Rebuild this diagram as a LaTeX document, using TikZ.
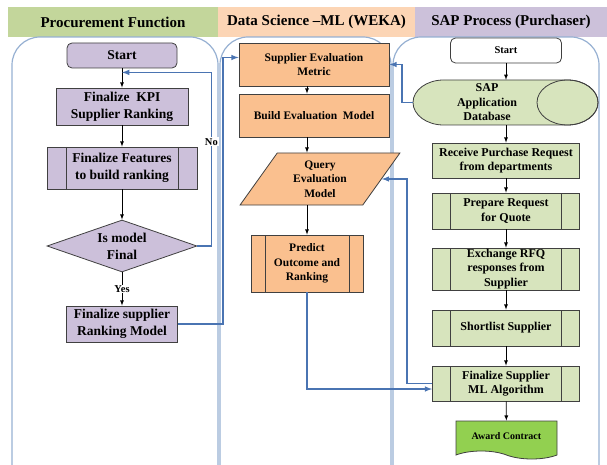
\documentclass[tikz,border=0pt]{standalone}
\usepackage{fontspec}
\setmainfont{Liberation Serif}
\usetikzlibrary{shapes.geometric,shapes.symbols,arrows,positioning,calc}
\definecolor{procfill}{RGB}{204,192,218}
\definecolor{dsfill}{RGB}{250,192,143}
\definecolor{sapfill}{RGB}{215,228,189}
\definecolor{awardfill}{RGB}{146,208,80}
\definecolor{headgreen}{RGB}{195,214,155}
\definecolor{headorange}{RGB}{252,213,181}
\definecolor{headpurple}{RGB}{204,193,218}
\definecolor{laneblue}{RGB}{150,176,210}
\definecolor{linkblue}{RGB}{74,116,178}
\tikzset{lanehead/.style={minimum height=30pt, inner sep=0pt, font=\fontsize{15}{18}\selectfont\bfseries},
  lane/.style={draw=laneblue, line width=1.2pt, rounded corners=28pt},
  box/.style={draw=black!75, line width=0.8pt, inner sep=1pt, align=center},
  procbox/.style={box, fill=procfill, font=\fontsize{13.5}{17}\selectfont\bfseries},
  dsbox/.style={box, fill=dsfill, font=\fontsize{11.5}{14.5}\selectfont\bfseries},
  sapbox/.style={box, fill=sapfill, font=\fontsize{12}{14.5}\selectfont\bfseries, minimum width=147pt},
  sides/.style={path picture={\draw[black!75, line width=0.8pt]
      ([xshift=#1]path picture bounding box.north west) -- ([xshift=#1]path picture bounding box.south west)
      ([xshift=-#1]path picture bounding box.north east) -- ([xshift=-#1]path picture bounding box.south east);}},
  tag/.style={fill=white, inner sep=1pt, font=\fontsize{10.5}{12}\selectfont\bfseries},
  arr/.style={->, >=latex, line width=0.8pt},
  link/.style={->, >=latex, draw=linkblue, line width=1.5pt}}

\begin{document}
\begin{tikzpicture}[x=1pt,y=-1pt]
    \useasboundingbox (0,0) rectangle (607,465);
    % lane headers
    \node[lanehead, fill=headgreen, minimum width=210pt] (H1) at (113,22) {Procurement Function};
    \node[lanehead, fill=headorange, minimum width=197pt] (H2) at (316.5,22) {Data Science --ML (WEKA)};
    \node[lanehead, fill=headpurple, minimum width=192pt] (H3) at (511,22) {SAP Process (Purchaser)};
    % lanes
    \draw[lane] (12,465) |- (115,37) -| (218,465);
    \draw[lane] (220,465) |- (305,37) -| (391,465);
    \draw[lane] (393,465) |- (495,37) -| (599,465);

    % procurement function
    \node[procbox, rounded corners=5pt, minimum width=110pt, minimum height=25pt] (P0) at (122,55.5) {Start};
    \node[procbox, minimum width=132pt, minimum height=37pt] (P1) at (122,106.5) {Finalize~ KPI\\Supplier Ranking};
    \node[procbox, sides=19pt, minimum width=150pt, minimum height=42pt] (P2) at (122,168) {Finalize Features\\to build ranking};
    \node[procbox, diamond, aspect=2.9, inner sep=0pt, minimum width=150pt, minimum height=52pt] (P3) at (122,246) {Is model\\Final};
    \node[procbox, minimum width=111pt, minimum height=36pt] (P4) at (122,324) {Finalize supplier\\Ranking Model};
    \draw[arr] (P0) -- (P1);
    \draw[arr] (P1) -- (P2);
    \draw[arr] (P2) -- (P3);
    \draw[arr] (P3) -- node[tag] {Yes} (P4);
    \draw[link] (P3.east) -- ++(14,0) |- node[tag, pos=0.3] {No} ([yshift=-4pt]P0.south);

    % data science
    \node[dsbox, minimum width=150pt, minimum height=43pt] (D1) at (314,64.5) {Supplier Evaluation\\Metric};
    \node[dsbox, minimum width=150pt, minimum height=43pt] (D2) at (314,115.5) {Build Evaluation~ Model};
    \node[dsbox, trapezium, trapezium left angle=58, trapezium right angle=122, trapezium stretches=true,
          minimum width=160pt, minimum height=52pt] (D3) at (320,179) {Query\\Evaluation\\Model};
    \node[dsbox, sides=14pt, minimum width=112pt, minimum height=57pt] (D4) at (307,263.5) {Predict\\Outcome and\\Ranking};
    \draw[arr] (D1.south -| D4.north) -- (D2.north -| D4.north);
    \draw[arr] (D2.south -| D4.north) -- (D3.north -| D4.north);
    \draw[arr] (D3.south -| D4.north) -- (D4.north);

    % SAP process
    \node[box, fill=white, rounded corners=5pt, minimum width=111pt, minimum height=25pt,
          font=\fontsize{10.5}{12}\selectfont\bfseries] (S0) at (506,50.5) {Start};
    % database drum, lying on its side
    \filldraw[fill=sapfill, draw=black!75, line width=0.8pt]
      (443.5,80) .. controls (426.7,80) and (413,90.1) .. (413,102.5)
      .. controls (413,114.9) and (426.7,125) .. (443.5,125) -- (567.5,125)
      .. controls (584.3,125) and (598,114.9) .. (598,102.5)
      .. controls (598,90.1) and (584.3,80) .. (567.5,80) -- cycle;
    \draw[black!75, line width=0.8pt] (567.5,102.5) ellipse [x radius=30.5pt, y radius=22.5pt];
    \node[align=center, inner sep=0pt, minimum width=148pt, minimum height=45pt,
          font=\fontsize{12}{14.5}\selectfont\bfseries] (S1) at (487,102.5) {SAP\\Application\\Database};
    \node[sapbox, minimum height=35pt] (S2) at (506,160.5) {Receive Purchase Request\\from departments};
    \node[sapbox, sides=18pt, minimum height=36pt] (S3) at (506,211) {Prepare Request\\for Quote};
    \node[sapbox, sides=18pt, minimum height=40pt] (S4) at (506,269) {Exchange RFQ\\responses from\\Supplier};
    \node[sapbox, sides=18pt, minimum height=36pt] (S5) at (506,328) {Shortlist Supplier};
    \node[sapbox, sides=18pt, minimum height=35pt] (S6) at (506,383.5) {Finalize Supplier\\ML Algorithm};
    \node[box, fill=awardfill, tape, tape bend top=none, tape bend bottom=out and in, tape bend height=8pt,
          minimum width=101pt, minimum height=38pt, font=\fontsize{10}{12}\selectfont\bfseries] (S7) at (506.5,436) {Award Contract};
    \draw[arr] (S0) -- (S0 |- S1.north);
    \draw[arr] (S2 |- S1.south) -- (S2);
    \draw[arr] (S2) -- (S3);
    \draw[arr] (S3) -- (S4);
    \draw[arr] (S4) -- (S5);
    \draw[arr] (S5) -- (S6);
    \draw[arr] (S6) -- (S7);

    % links between lanes
    \draw[link] (P4.east) -- ++(45,0) |- ([yshift=7pt]D1.west);
    \draw[link] (S1.west) -- ++(-11,0) |- (D1.east);
    \draw[link] (S6.west) -- ++(-25,0) |- (D3.east);
    \draw[link] (D4.south) |- ([yshift=-5.5pt]S6.west);
\end{tikzpicture}
\end{document}
